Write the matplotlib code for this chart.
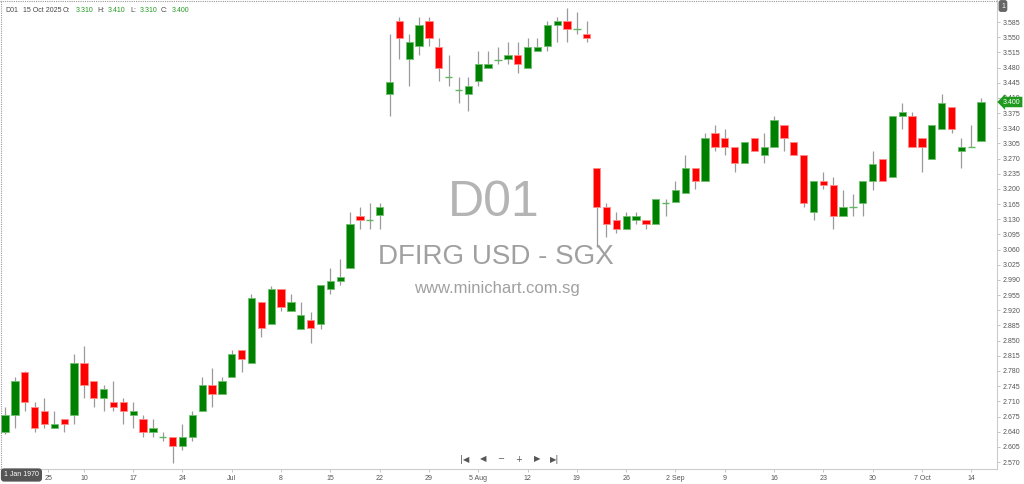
import matplotlib
matplotlib.use("Agg")
import matplotlib.pyplot as plt
import numpy as np
from matplotlib.lines import Line2D

# ---- data ----
opens = [2.639, 2.678, 2.778, 2.696, 2.688, 2.648, 2.669, 2.678, 2.798, 2.758,
         2.718, 2.709, 2.709, 2.678, 2.669, 2.639, 2.628, 2.628, 2.608, 2.628,
         2.688, 2.748, 2.728, 2.767, 2.828, 2.798, 2.938, 2.888, 2.968, 2.918,
         2.878, 2.898, 2.888, 2.968, 2.988, 3.018, 3.138, 3.128, 3.139,
         3.419, 3.587, 3.499, 3.530, 3.587, 3.528, 3.458, 3.428, 3.419, 3.448,
         3.478, 3.498, 3.499, 3.508, 3.478, 3.518, 3.530, 3.578, 3.587, 3.568,
         3.558,
         3.248, 3.158, 3.128, 3.108, 3.128, 3.128, 3.119, 3.167, 3.169, 3.190,
         3.248, 3.218, 3.328, 3.318, 3.297, 3.259, 3.318, 3.278, 3.297, 3.348,
         3.308, 3.278, 3.147, 3.218, 3.208, 3.138, 3.158, 3.168, 3.218, 3.268,
         3.228, 3.368, 3.368, 3.318, 3.268, 3.338, 3.388, 3.288, 3.296, 3.310]
highs = [2.696, 2.767, 2.780, 2.709, 2.717, 2.688, 2.669, 2.819, 2.838, 2.758,
         2.748, 2.758, 2.717, 2.709, 2.678, 2.669, 2.639, 2.628, 2.657, 2.688,
         2.767, 2.788, 2.767, 2.828, 2.828, 2.958, 2.938, 2.977, 2.968, 2.958,
         2.938, 2.917, 2.978, 3.018, 3.038, 3.147, 3.158, 3.167, 3.167,
         3.557, 3.597, 3.557, 3.597, 3.597, 3.547, 3.508, 3.458, 3.458, 3.518,
         3.518, 3.528, 3.538, 3.538, 3.547, 3.547, 3.587, 3.597, 3.617, 3.608,
         3.587,
         3.248, 3.167, 3.147, 3.147, 3.147, 3.128, 3.177, 3.177, 3.218, 3.278,
         3.248, 3.328, 3.348, 3.338, 3.297, 3.308, 3.318, 3.328, 3.368, 3.348,
         3.308, 3.278, 3.218, 3.238, 3.228, 3.198, 3.188, 3.218, 3.288, 3.268,
         3.368, 3.398, 3.378, 3.318, 3.348, 3.418, 3.388, 3.318, 3.348, 3.410]
lows = [2.635, 2.648, 2.688, 2.639, 2.648, 2.648, 2.639, 2.657, 2.718, 2.698,
        2.688, 2.688, 2.657, 2.648, 2.628, 2.628, 2.619, 2.568, 2.598, 2.619,
        2.688, 2.698, 2.728, 2.767, 2.778, 2.798, 2.859, 2.888, 2.918, 2.918,
        2.878, 2.845, 2.878, 2.958, 2.978, 3.018, 3.108, 3.108, 3.108,
        3.368, 3.499, 3.438, 3.509, 3.530, 3.448, 3.438, 3.398, 3.380, 3.438,
        3.478, 3.489, 3.489, 3.468, 3.478, 3.518, 3.518, 3.538, 3.538, 3.558,
        3.538,
        3.067, 3.090, 3.099, 3.108, 3.119, 3.108, 3.119, 3.138, 3.169, 3.190,
        3.199, 3.218, 3.288, 3.278, 3.239, 3.259, 3.288, 3.259, 3.297, 3.288,
        3.278, 3.158, 3.128, 3.199, 3.108, 3.138, 3.138, 3.138, 3.198, 3.218,
        3.228, 3.338, 3.297, 3.238, 3.268, 3.338, 3.328, 3.248, 3.296, 3.310]
closes = [2.678, 2.758, 2.709, 2.648, 2.657, 2.657, 2.657, 2.798, 2.748, 2.718,
          2.738, 2.698, 2.688, 2.688, 2.639, 2.648, 2.628, 2.608, 2.628, 2.678,
          2.748, 2.728, 2.758, 2.819, 2.807, 2.948, 2.879, 2.968, 2.928, 2.938,
          2.908, 2.879, 2.978, 2.987, 2.997, 3.119, 3.128, 3.128, 3.158,
          3.447, 3.549, 3.538, 3.578, 3.549, 3.478, 3.458, 3.428, 3.437, 3.489,
          3.489, 3.498, 3.508, 3.489, 3.528, 3.528, 3.578, 3.587, 3.569, 3.568,
          3.548,
          3.159, 3.119, 3.108, 3.138, 3.138, 3.119, 3.177, 3.167, 3.198, 3.248,
          3.218, 3.318, 3.297, 3.297, 3.259, 3.308, 3.288, 3.297, 3.358, 3.318,
          3.278, 3.168, 3.218, 3.208, 3.138, 3.158, 3.158, 3.218, 3.258, 3.218,
          3.368, 3.378, 3.297, 3.297, 3.348, 3.398, 3.338, 3.297, 3.296, 3.400]

tick_idx = [4.37, 8, 13, 18, 23, 28, 33, 38, 43, 48, 53, 58, 63, 68, 73, 78, 83, 88, 93, 98]
tick_labels = ["25", "10", "17", "24", "Jul", "8", "15", "22", "29", "5 Aug", "12", "19",
               "26", "2 Sep", "9", "16", "23", "30", "7 Oct", "14"]
price_ticks = np.round(np.arange(2.570, 3.5851, 0.035), 3)

FONT = "Liberation Sans"

# ---- figure ----
W, H = 1024, 484
fig = plt.figure(figsize=(W / 100, H / 100), dpi=100)
fig.patch.set_facecolor("white")
ax = fig.add_axes([0, 15 / H, 997 / W, 469 / H])
ax.set_facecolor("white")

o = np.array(opens); h = np.array(highs); l = np.array(lows); c = np.array(closes)
x = np.arange(len(o))
up = c > o
down = c < o
flat = c == o
bw = 0.74

ax.vlines(x, l, h, color="#9a9a9a", linewidth=0.9, zorder=1)
ax.bar(x[up], (c - o)[up], bottom=o[up], width=bw, color="#008000",
       edgecolor="#6fbf6f", linewidth=0.6, zorder=2)
ax.bar(x[down], (o - c)[down], bottom=c[down], width=bw, color="#ff0000",
       edgecolor="#ff8a8a", linewidth=0.6, zorder=2)
ax.hlines(o[flat], x[flat] - bw / 2, x[flat] + bw / 2, color="#5fb85f", linewidth=1.0, zorder=2)

ax.set_xlim(-0.507, 100.61)
ax.set_ylim(2.5539, 3.6358)

ax.yaxis.tick_right()
ax.set_yticks(price_ticks)
ax.set_yticklabels([f"{v:.3f}" for v in price_ticks], fontfamily=FONT)
ax.set_xticks(tick_idx)
ax.set_xticklabels(tick_labels, fontfamily=FONT)
ax.tick_params(axis="y", labelsize=5, colors="#bbbbbb", labelcolor="#555555",
               length=2.5, width=0.6, pad=1.5)
ax.tick_params(axis="x", labelsize=5, colors="#bbbbbb", labelcolor="#555555",
               length=2.5, width=0.6, pad=2)
for s in ["top", "left"]:
    ax.spines[s].set_visible(False)
for s in ["right", "bottom"]:
    ax.spines[s].set_color("#cccccc")
    ax.spines[s].set_linewidth(0.8)

def px(xp, yp):
    return xp / W, 1 - yp / H

# dotted frame left / top
fig.add_artist(Line2D([0.5 / W, 0.5 / W], [15 / H, 1], transform=fig.transFigure,
                      color="#999999", linestyle=(0, (1, 1)), linewidth=0.8))
fig.add_artist(Line2D([0, 997 / W], [1 - 0.5 / H, 1 - 0.5 / H], transform=fig.transFigure,
                      color="#999999", linestyle=(0, (1, 1)), linewidth=0.8))

# header
hdr = [(5, "D01", "#444444"), (23, "15 Oct 2025", "#444444"), (63, "O:", "#444444"),
       (76, f"{opens[-1]:.3f}", "#1f9a1f"), (97, "H:", "#444444"), (108, f"{highs[-1]:.3f}", "#1f9a1f"),
       (130, "L:", "#444444"), (140, f"{lows[-1]:.3f}", "#1f9a1f"), (161, "C:", "#444444"),
       (172, f"{closes[-1]:.3f}", "#1f9a1f")]
for xp, t, col in hdr:
    fig.text(*px(xp, 11), t, fontsize=5, color=col, ha="left", va="center", family=FONT)

# watermarks
fig.text(*px(494, 203), "D01", fontsize=36, color="#b4b4b4", ha="center", va="center", family=FONT)
fig.text(*px(496, 257), "DFIRG USD - SGX", fontsize=20, color="#a0a0a0", ha="center", va="center",
         family=FONT)
fig.text(*px(497, 289), "www.minichart.com.sg", fontsize=12, color="#a0a0a0", ha="center", va="center",
         family=FONT)

# navigation icons
for xp, t in [(465, "|◀"), (483, "◀"), (501, "−"), (519, "+"), (537, "▶"), (555, "▶|")]:
    fig.text(*px(xp, 459), t, fontsize=6, color="#555555", ha="center", va="center")

# left date box
fig.text(*px(4, 475), "1 Jan 1970", fontsize=5, color="white", ha="left", va="center", family=FONT,
         bbox=dict(boxstyle="round,pad=0.45", facecolor="#555555", edgecolor="none"))

# top-right "1" box
fig.text(*px(1001, 6), "1", fontsize=5, color="white", ha="left", va="center", family=FONT,
         bbox=dict(boxstyle="round,pad=0.35", facecolor="#666666", edgecolor="none"), zorder=5)
# last price label
fig.text(*px(1003, 102), f"{closes[-1]:.3f}", fontsize=5, color="white", ha="left", va="center",
         family=FONT,
         bbox=dict(boxstyle="larrow,pad=0.25", facecolor="#1f9a1f", edgecolor="none"), zorder=5)

fig.savefig("out.png", dpi=100)
